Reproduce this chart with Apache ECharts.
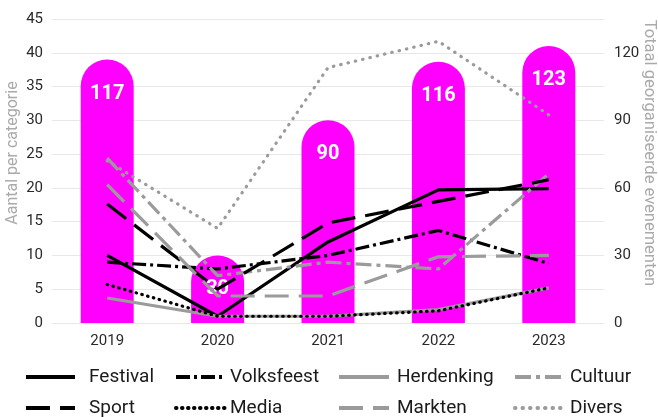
<!DOCTYPE html>
<html>
<head>
<meta charset="utf-8">
<script src="https://cdn.jsdelivr.net/npm/echarts@6/dist/echarts.min.js"></script>
<style>
  html, body { margin: 0; padding: 0; background: #fff; }
  #chart { width: 658px; height: 417px; }
</style>
</head>
<body>
<div id="chart"></div>
<script>
// jaren en totalen (rechter as)
const years = ['2019', '2020', '2021', '2022', '2023'];
const totals = [117, 30, 90, 116, 123];

// aantal per categorie (linker as)
const festival = [10, 1, 12, 19.7, 19.9];
const volksfeest = [9, 8, 10, 13.7, 8.8];
const herdenking = [3.7, 1, 1, 2, 5.2];
const cultuur = [24.4, 7, 9, 8, 22.1];
const sport = [17.6, 5, 14.8, 18, 21.2];
const media = [5.7, 1, 1, 1.8, 5.2];
const markten = [20.5, 4, 4, 9.8, 10];
const divers = [24, 14, 37.8, 41.7, 30.8];

const BLACK = '#000000';
const GREY = '#9b9b9b';
const FONT = 'Roboto';

function lineSerie(name, data, color, dash, cap) {
    return {
        name: name,
        type: 'line',
        yAxisIndex: 0,
        data: data,
        symbol: 'none',
        z: 3,
        lineStyle: {
            color: color,
            width: 3.2,
            type: dash,
            cap: cap || 'butt'
        },
        itemStyle: {color: color}
    };
}

// one legend per item so the columns line up like the original
function legendItem(name, left, top, width, gap) {
    return {
        left: left,
        top: top,
        padding: 0,
        itemWidth: width,
        itemHeight: 14,
        data: [name],
        itemStyle: {color: 'rgba(0,0,0,0)', borderWidth: 0},
        lineStyle: {width: 4},
        textStyle: {
            fontFamily: FONT,
            fontSize: 19,
            lineHeight: 22,
            color: '#1a1a1a',
            padding: [0, 0, 0, gap]
        }
    };
}

const chart = echarts.init(document.getElementById('chart'));

chart.setOption({
    animation: false,
    grid: {left: 52, right: 54, top: 19, bottom: 94},
    legend: [
        legendItem('Festival', 24, 366, 49, 9),
        legendItem('Volksfeest', 174, 366, 49, 0),
        legendItem('Herdenking', 337, 366, 50, 3),
        legendItem('Cultuur', 513, 366, 48, 2),
        legendItem('Sport', 24, 397, 49, 9),
        legendItem('Media', 174, 397, 49, 0),
        legendItem('Markten', 337, 397, 50, 3),
        legendItem('Divers', 513, 397, 48, 2)
    ],
    xAxis: {
        type: 'category',
        data: years,
        axisLine: {show: false},
        axisTick: {show: false},
        axisLabel: {fontFamily: FONT, fontSize: 15, color: '#2a2a2a', margin: 11}
    },
    yAxis: [
        {
            type: 'value',
            min: 0,
            max: 45,
            interval: 5,
            axisLine: {show: false},
            axisTick: {show: false},
            splitLine: {lineStyle: {color: '#e8e8e8', width: 1}},
            axisLabel: {fontFamily: FONT, fontSize: 15, color: '#2a2a2a', margin: 9}
        },
        {
            type: 'value',
            min: 0,
            max: 135,
            interval: 15,
            position: 'right',
            axisLine: {show: false},
            axisTick: {show: false},
            splitLine: {show: false},
            axisLabel: {
                fontFamily: FONT, fontSize: 15, color: '#2a2a2a', margin: 10,
                formatter: v => (v % 30 === 0 ? String(v) : '')
            }
        }
    ],
    graphic: [
        {
            type: 'text',
            x: 13,
            y: 153,
            rotation: Math.PI / 2,
            style: {
                text: 'Aantal per categorie',
                fill: '#aaaaaa',
                fontFamily: FONT,
                fontSize: 16,
                align: 'center',
                verticalAlign: 'middle',
                textAlign: 'center',
                textVerticalAlign: 'middle'
            }
        },
        {
            type: 'text',
            x: 649,
            y: 153,
            rotation: -Math.PI / 2,
            style: {
                text: 'Totaal georganiseerde evenementen',
                fill: '#aaaaaa',
                fontFamily: FONT,
                fontSize: 16.5,
                align: 'center',
                verticalAlign: 'middle',
                textAlign: 'center',
                textVerticalAlign: 'middle'
            }
        }
    ],
    series: [
        {
            name: 'Totaal',
            type: 'bar',
            yAxisIndex: 1,
            data: totals,
            barWidth: 53,
            z: 2,
            itemStyle: {color: '#ff00ff', borderRadius: [26.5, 26.5, 0, 0]},
            label: {
                show: true,
                position: 'insideTop',
                distance: 24,
                color: '#ffffff',
                fontFamily: FONT,
                fontWeight: 'bold',
                fontSize: 20
            }
        },
        lineSerie('Festival', festival, BLACK, 'solid'),
        lineSerie('Volksfeest', volksfeest, BLACK, [14, 4, 3, 4]),
        lineSerie('Herdenking', herdenking, GREY, 'solid'),
        lineSerie('Cultuur', cultuur, GREY, [16, 5, 4, 5]),
        lineSerie('Sport', sport, BLACK, [24, 10]),
        lineSerie('Markten', markten, GREY, [24, 10]),
        lineSerie('Divers', divers, GREY, [0.5, 7], 'round'),
        lineSerie('Media', media, BLACK, [0.5, 5.5], 'round')
    ]
});
</script>
</body>
</html>
